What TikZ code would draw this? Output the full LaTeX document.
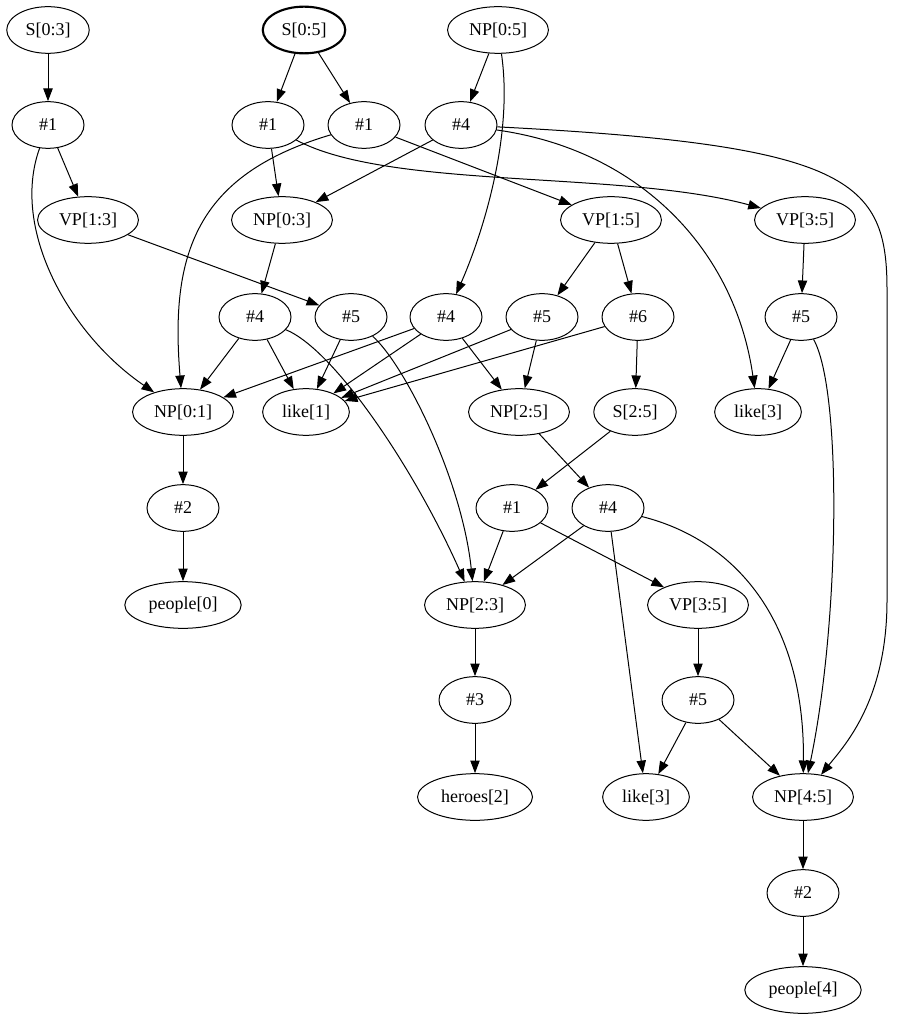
\documentclass[tikz,border=0pt]{standalone}
\usepackage{fontspec}
\setmainfont{Liberation Serif}
\usetikzlibrary{shapes.geometric,arrows.meta}
\begin{document}
\begin{tikzpicture}[x=0.75pt,y=-0.75pt,
  nd/.style={draw,ellipse,line width=0.75pt,minimum width=54pt,minimum height=35pt,inner xsep=5pt,inner ysep=1pt,font=\fontsize{13.5}{15}\selectfont},
  ar/.style={line width=0.75pt,-{Triangle[length=9.5pt,width=7pt]}}]
\useasboundingbox (0,0) rectangle (900,1019);
% row 1
\node[nd] (s03) at (48,30) {S[0:3]};
\node[nd,line width=1.6pt] (s05) at (304,30) {S[0:5]};
\node[nd] (np05) at (498,30) {NP[0:5]};
% row 2
\node[nd] (h1a) at (48,125) {\#1};
\node[nd] (h1b) at (268,125) {\#1};
\node[nd] (h1c) at (364,125) {\#1};
\node[nd] (h4a) at (461,125) {\#4};
% row 3
\node[nd] (vp13) at (88,220) {VP[1:3]};
\node[nd] (np03) at (282,220) {NP[0:3]};
\node[nd] (vp15) at (611,220) {VP[1:5]};
\node[nd] (vp35a) at (805,220) {VP[3:5]};
% row 4
\node[nd] (h4b) at (255,317) {\#4};
\node[nd] (h5a) at (351,317) {\#5};
\node[nd] (h4c) at (446,317) {\#4};
\node[nd] (h5b) at (542,317) {\#5};
\node[nd] (h6) at (638,317) {\#6};
\node[nd] (h5c) at (801,317) {\#5};
% row 5
\node[nd] (np01) at (183,412) {NP[0:1]};
\node[nd] (like1) at (306,412) {like[1]};
\node[nd] (np25) at (519,412) {NP[2:5]};
\node[nd] (s25) at (635,412) {S[2:5]};
\node[nd] (like3a) at (758,412) {like[3]};
% row 6
\node[nd] (h2a) at (183,508) {\#2};
\node[nd] (h1d) at (512,508) {\#1};
\node[nd] (h4d) at (608,508) {\#4};
% row 7
\node[nd] (people0) at (183,605) {people[0]};
\node[nd] (np23) at (475,605) {NP[2:3]};
\node[nd] (vp35b) at (698,605) {VP[3:5]};
% row 8
\node[nd] (h3) at (475,700) {\#3};
\node[nd] (h5d) at (698,700) {\#5};
% row 9
\node[nd] (heroes2) at (475,797) {heroes[2]};
\node[nd] (like3b) at (646,797) {like[3]};
\node[nd] (np45) at (803,797) {NP[4:5]};
% row 10-11
\node[nd] (h2b) at (803,893) {\#2};
\node[nd] (people4) at (803,990) {people[4]};

% edges
\draw[ar] (s03) -- (h1a);
\draw[ar] (s05) -- (h1b);
\draw[ar] (s05) -- (h1c);
\draw[ar] (np05) -- (h4a);
\draw[ar] (np05) .. controls (514,140) and (480,240) .. (h4c);
\draw[ar] (h1a) -- (vp13);
\draw[ar] (h1a) .. controls (10,230) and (70,335) .. (np01);
\draw[ar] (h1b) -- (np03);
\draw[ar] (h1b) .. controls (390,190) and (620,170) .. (vp35a);
\draw[ar] (h1c) .. controls (195,175) and (170,255) .. (np01);
\draw[ar] (h1c) -- (vp15);
\draw[ar] (h4a) -- (np03);
\draw[ar] (h4a) .. controls (640,150) and (735,250) .. (like3a);
\draw[ar] (h4a) .. controls (850,145) and (887,180) .. (887,290) -- (887,600) .. controls (887,700) and (845,745) .. (np45);
\draw[ar] (vp13) -- (h5a);
\draw[ar] (np03) -- (h4b);
\draw[ar] (vp15) -- (h5b);
\draw[ar] (vp15) -- (h6);
\draw[ar] (vp35a) -- (h5c);
\draw[ar] (h4b) -- (np01);
\draw[ar] (h4b) -- (like1);
\draw[ar] (h4b) .. controls (335,350) and (415,470) .. (np23);
\draw[ar] (h5a) -- (like1);
\draw[ar] (h5a) .. controls (405,365) and (462,480) .. (np23);
\draw[ar] (h4c) -- (np01);
\draw[ar] (h4c) -- (like1);
\draw[ar] (h4c) -- (np25);
\draw[ar] (h5b) -- (like1);
\draw[ar] (h5b) -- (np25);
\draw[ar] (h6) -- (like1);
\draw[ar] (h6) -- (s25);
\draw[ar] (h5c) -- (like3a);
\draw[ar] (h5c) .. controls (842,390) and (840,620) .. (np45);
\draw[ar] (np01) -- (h2a);
\draw[ar] (np25) -- (h4d);
\draw[ar] (s25) -- (h1d);
\draw[ar] (h2a) -- (people0);
\draw[ar] (h1d) -- (np23);
\draw[ar] (h1d) -- (vp35b);
\draw[ar] (h4d) -- (np23);
\draw[ar] (h4d) -- (like3b);
\draw[ar] (h4d) .. controls (735,540) and (805,620) .. (np45);
\draw[ar] (np23) -- (h3);
\draw[ar] (vp35b) -- (h5d);
\draw[ar] (h3) -- (heroes2);
\draw[ar] (h5d) -- (like3b);
\draw[ar] (h5d) -- (np45);
\draw[ar] (np45) -- (h2b);
\draw[ar] (h2b) -- (people4);
\end{tikzpicture}
\end{document}
